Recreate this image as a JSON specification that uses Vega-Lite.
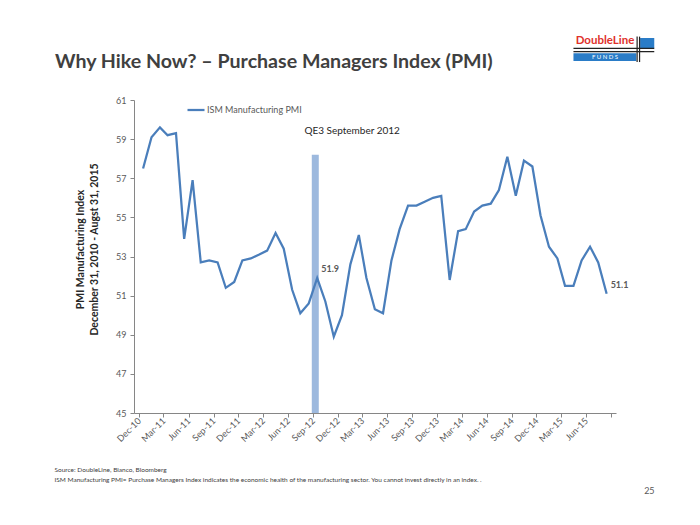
{
  "$schema": "https://vega.github.io/schema/vega-lite/v6.json",
  "autosize": {"type": "none"},
  "width": 482,
  "height": 313,
  "padding": {"left": 134, "top": 100, "right": 84, "bottom": 112},
  "background": "white",
  "config": {
    "font": "Lato",
    "view": {"stroke": null},
    "axis": {"grid": false, "domainColor": "#868686", "tickColor": "#868686", "tickSize": 4, "labelColor": "#595959", "labelFontSize": 9, "labelFont": "Lato"}
  },
  "title": {
    "text": "Why Hike Now? – Purchase Managers Index (PMI)",
    "anchor": "start",
    "frame": "group",
    "dx": -79,
    "dy": 59,
    "fontSize": 19.6,
    "fontWeight": "bold",
    "color": "#404040",
    "font": "Lato",
    "offset": 22
  },
  "datasets": {
    "pmi": [
      {"date": "2010-12-16T00:00:00", "value": 57.5},
      {"date": "2011-01-16T00:00:00", "value": 59.1},
      {"date": "2011-02-16T00:00:00", "value": 59.6},
      {"date": "2011-03-16T00:00:00", "value": 59.2},
      {"date": "2011-04-16T00:00:00", "value": 59.3},
      {"date": "2011-05-16T00:00:00", "value": 53.9},
      {"date": "2011-06-16T00:00:00", "value": 56.9},
      {"date": "2011-07-16T00:00:00", "value": 52.7},
      {"date": "2011-08-16T00:00:00", "value": 52.8},
      {"date": "2011-09-16T00:00:00", "value": 52.7},
      {"date": "2011-10-16T00:00:00", "value": 51.4},
      {"date": "2011-11-16T00:00:00", "value": 51.7},
      {"date": "2011-12-16T00:00:00", "value": 52.8},
      {"date": "2012-01-16T00:00:00", "value": 52.9},
      {"date": "2012-02-16T00:00:00", "value": 53.1},
      {"date": "2012-03-16T00:00:00", "value": 53.3},
      {"date": "2012-04-16T00:00:00", "value": 54.2},
      {"date": "2012-05-16T00:00:00", "value": 53.4},
      {"date": "2012-06-16T00:00:00", "value": 51.3},
      {"date": "2012-07-16T00:00:00", "value": 50.1},
      {"date": "2012-08-16T00:00:00", "value": 50.6},
      {"date": "2012-09-16T00:00:00", "value": 51.9, "label": "51.9"},
      {"date": "2012-10-16T00:00:00", "value": 50.7},
      {"date": "2012-11-16T00:00:00", "value": 48.9},
      {"date": "2012-12-16T00:00:00", "value": 50.0},
      {"date": "2013-01-16T00:00:00", "value": 52.6},
      {"date": "2013-02-16T00:00:00", "value": 54.1},
      {"date": "2013-03-16T00:00:00", "value": 51.9},
      {"date": "2013-04-16T00:00:00", "value": 50.3},
      {"date": "2013-05-16T00:00:00", "value": 50.1},
      {"date": "2013-06-16T00:00:00", "value": 52.8},
      {"date": "2013-07-16T00:00:00", "value": 54.4},
      {"date": "2013-08-16T00:00:00", "value": 55.6},
      {"date": "2013-09-16T00:00:00", "value": 55.6},
      {"date": "2013-10-16T00:00:00", "value": 55.8},
      {"date": "2013-11-16T00:00:00", "value": 56.0},
      {"date": "2013-12-16T00:00:00", "value": 56.1},
      {"date": "2014-01-16T00:00:00", "value": 51.8},
      {"date": "2014-02-16T00:00:00", "value": 54.3},
      {"date": "2014-03-16T00:00:00", "value": 54.4},
      {"date": "2014-04-16T00:00:00", "value": 55.3},
      {"date": "2014-05-16T00:00:00", "value": 55.6},
      {"date": "2014-06-16T00:00:00", "value": 55.7},
      {"date": "2014-07-16T00:00:00", "value": 56.4},
      {"date": "2014-08-16T00:00:00", "value": 58.1},
      {"date": "2014-09-16T00:00:00", "value": 56.1},
      {"date": "2014-10-16T00:00:00", "value": 57.9},
      {"date": "2014-11-16T00:00:00", "value": 57.6},
      {"date": "2014-12-16T00:00:00", "value": 55.1},
      {"date": "2015-01-16T00:00:00", "value": 53.5},
      {"date": "2015-02-16T00:00:00", "value": 52.9},
      {"date": "2015-03-16T00:00:00", "value": 51.5},
      {"date": "2015-04-16T00:00:00", "value": 51.5},
      {"date": "2015-05-16T00:00:00", "value": 52.8},
      {"date": "2015-06-16T00:00:00", "value": 53.5},
      {"date": "2015-07-16T00:00:00", "value": 52.7},
      {"date": "2015-08-16T00:00:00", "value": 51.1, "label": "51.1"}
    ]
  },
  "encoding": {
    "x": {
      "field": "date",
      "type": "temporal",
      "scale": {"domain": [{"year": 2010, "month": 12, "date": 1}, {"year": 2015, "month": 9, "date": 1}]},
      "axis": {
        "values": [
          {"year": 2010, "month": 12, "date": 1}, {"year": 2011, "month": 3, "date": 1}, {"year": 2011, "month": 6, "date": 1}, {"year": 2011, "month": 9, "date": 1},
          {"year": 2011, "month": 12, "date": 1}, {"year": 2012, "month": 3, "date": 1}, {"year": 2012, "month": 6, "date": 1}, {"year": 2012, "month": 9, "date": 1},
          {"year": 2012, "month": 12, "date": 1}, {"year": 2013, "month": 3, "date": 1}, {"year": 2013, "month": 6, "date": 1}, {"year": 2013, "month": 9, "date": 1},
          {"year": 2013, "month": 12, "date": 1}, {"year": 2014, "month": 3, "date": 1}, {"year": 2014, "month": 6, "date": 1}, {"year": 2014, "month": 9, "date": 1},
          {"year": 2014, "month": 12, "date": 1}, {"year": 2015, "month": 3, "date": 1}, {"year": 2015, "month": 6, "date": 1}, {"year": 2015, "month": 9, "date": 1}
        ],
        "labelExpr": "timeFormat(datum.value, '%b-%y') == 'Sep-15' ? '' : timeFormat(datum.value, '%b-%y')",
        "labelAngle": -45,
        "labelAlign": "right",
        "labelBaseline": "middle",
        "labelPadding": 2,
        "labelOverlap": false,
        "title": ["Source: DoubleLine, Bianco, Bloomberg", "ISM Manufacturing PMI= Purchase Managers Index indicates the economic health of the manufacturing sector. You cannot invest directly in an index. ."],
        "titleX": -80,
        "titleY": 53,
        "titleAlign": "left",
        "titleAnchor": null,
        "titleBaseline": "top",
        "titleFontSize": 6.5,
        "titleFontWeight": "normal",
        "titleColor": "#404040",
        "titleLineHeight": 10
      }
    },
    "y": {
      "field": "value",
      "type": "quantitative",
      "scale": {"domain": [45, 61], "zero": false, "nice": false},
      "axis": {
        "values": [45, 47, 49, 51, 53, 55, 57, 59, 61],
        "labelPadding": 4,
        "title": ["PMI Manufacturing Index", "December 31, 2010 - Augst 31, 2015"],
        "titleFontSize": 10.5,
        "titleFontWeight": "bold",
        "titleColor": "#262626",
        "titleLineHeight": 14,
        "titleX": -59,
        "titleY": 149,
        "titleAlign": "center",
        "titleBaseline": "top",
        "titleAngle": -90
      }
    }
  },
  "layer": [
    {
      "data": {"values": [{"date": "2012-09-09T00:00:00", "top": 58.2, "base": 45}]},
      "mark": {"type": "bar", "size": 7, "color": "#9DB9DE"},
      "encoding": {
        "x": {"field": "date", "type": "temporal"},
        "y": {"field": "top", "type": "quantitative"},
        "y2": {"field": "base"}
      }
    },
    {
      "data": {"name": "pmi"},
      "mark": {"type": "line", "strokeWidth": 2.25, "clip": false},
      "encoding": {
        "color": {
          "datum": "ISM Manufacturing PMI",
          "scale": {"range": ["#4A7EBB"]},
          "legend": {
            "title": null,
            "orient": "none",
            "legendX": 52,
            "legendY": 0,
            "symbolType": "stroke",
            "symbolSize": 289,
            "symbolStrokeWidth": 2.25,
            "labelFontSize": 9,
            "labelColor": "#595959",
            "labelFont": "Lato",
            "labelOffset": 1
          }
        }
      }
    },
    {
      "data": {"name": "pmi"},
      "transform": [{"filter": "datum.label != null"}],
      "mark": {"type": "text", "align": "left", "baseline": "middle", "dx": 4, "dy": -9, "fontSize": 9, "fontWeight": "bold", "color": "#595959"},
      "encoding": {"text": {"field": "label"}}
    },
    {
      "data": {"values": [{"date": "2012-07-31T00:00:00", "value": 59.42, "note": "QE3 September 2012"}]},
      "mark": {"type": "text", "align": "left", "baseline": "middle", "fontSize": 10, "color": "#262626"},
      "encoding": {"text": {"field": "note"}}
    },
    {
      "data": {"values": [{"date": "2016-01-20T00:00:00", "value": 41.0, "note": "25"}]},
      "mark": {"type": "text", "align": "center", "baseline": "middle", "fontSize": 9, "color": "#595959", "clip": false},
      "encoding": {"text": {"field": "note"}}
    },
    {
      "data": {"values": [
        {"x1": "2015-04-16T00:00:00", "x2": "2015-12-03T00:00:00", "y1": 63.39, "y2": 62.99},
        {"x1": "2015-12-17T00:00:00", "x2": "2016-02-07T00:00:00", "y1": 64.17, "y2": 63.64}
      ]},
      "mark": {"type": "rect", "color": "#2A7CC7", "clip": false},
      "encoding": {
        "x": {"field": "x1", "type": "temporal"},
        "x2": {"field": "x2"},
        "y": {"field": "y1", "type": "quantitative"},
        "y2": {"field": "y2"}
      }
    },
    {
      "data": {"values": [
        {"x1": "2015-04-16T00:00:00", "x2": "2016-02-07T00:00:00", "y1": 63.64, "y2": 63.64},
        {"x1": "2015-04-16T00:00:00", "x2": "2016-02-07T00:00:00", "y1": 63.47, "y2": 63.47},
        {"x1": "2015-12-06T00:00:00", "x2": "2015-12-06T00:00:00", "y1": 64.24, "y2": 62.94},
        {"x1": "2015-12-15T00:00:00", "x2": "2015-12-15T00:00:00", "y1": 64.24, "y2": 62.94}
      ]},
      "mark": {"type": "rule", "color": "#222222", "strokeWidth": 1.2, "clip": false},
      "encoding": {
        "x": {"field": "x1", "type": "temporal"},
        "x2": {"field": "x2"},
        "y": {"field": "y1", "type": "quantitative"},
        "y2": {"field": "y2"}
      }
    },
    {
      "data": {"values": [
        {"date": "2015-08-10T00:00:00", "value": 64.0, "note": "DoubleLine"}
      ]},
      "mark": {"type": "text", "align": "center", "baseline": "middle", "fontSize": 11.5, "fontWeight": "bold", "color": "#E0312B", "clip": false, "font": "Lato"},
      "encoding": {"text": {"field": "note"}}
    },
    {
      "data": {"values": [
        {"date": "2015-08-10T00:00:00", "value": 63.19, "note": "F   U   N   D   S"}
      ]},
      "mark": {"type": "text", "align": "center", "baseline": "middle", "fontSize": 6, "color": "white", "clip": false},
      "encoding": {"text": {"field": "note"}}
    }
  ]
}
